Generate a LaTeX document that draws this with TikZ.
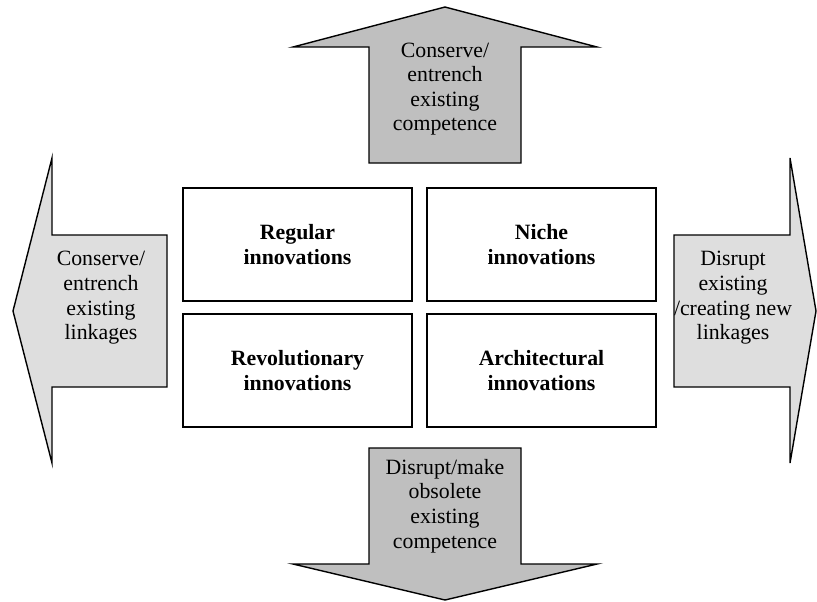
\documentclass[tikz,border=0pt]{standalone}
\usepackage{fontspec}
\setmainfont{Liberation Serif}
\definecolor{darkarrow}{gray}{0.75}
\definecolor{lightarrow}{gray}{0.87}

\begin{document}
\begin{tikzpicture}[x=0.5pt, y=-0.5pt,
  innobox/.style={draw, line width=0.8pt, minimum width=114.5pt, minimum height=56.5pt, align=center, font=\fontsize{10.9}{12.3}\selectfont\bfseries},
  arrowtext/.style={align=center, font=\fontsize{10.9}{12.3}\selectfont},
  arrowshape/.style={draw, line width=0.7pt}]
\useasboundingbox (0,0) rectangle (817,601);
% competence arrows
\draw[arrowshape, fill=darkarrow] (369,163) -- (369,47) -- (293,47) -- (445,7) -- (597,47) -- (521,47) -- (521,163) -- cycle;
\draw[arrowshape, fill=darkarrow] (369,448) -- (369,564) -- (293,564) -- (445,600) -- (597,564) -- (521,564) -- (521,448) -- cycle;
% linkage arrows
\draw[arrowshape, fill=lightarrow] (167,235) -- (52,235) -- (52,158) -- (13,311) -- (52,463) -- (52,387) -- (167,387) -- cycle;
\draw[arrowshape, fill=lightarrow] (674,235) -- (790,235) -- (790,158) -- (816,311) -- (790,463) -- (790,387) -- (674,387) -- cycle;
\node[arrowtext] (conserveup) at (445,89) {Conserve/\\entrench\\existing\\competence};
\node[arrowtext] (disruptdown) at (445,506) {Disrupt/make\\obsolete\\existing\\competence};
\node[arrowtext] (conserveleft) at (101,298) {Conserve/\\entrench\\existing\\linkages};
\node[arrowtext] (disruptright) at (733,298) {Disrupt\\existing\\/creating new\\linkages};
% the four boxes
\node[innobox] (regular) at (297.5,244.5) {Regular\\innovations};
\node[innobox] (niche) at (541.5,244.5) {Niche\\innovations};
\node[innobox] (revolutionary) at (297.5,370.5) {Revolutionary\\innovations};
\node[innobox] (architectural) at (541.5,370.5) {Architectural\\innovations};
\end{tikzpicture}
\end{document}
